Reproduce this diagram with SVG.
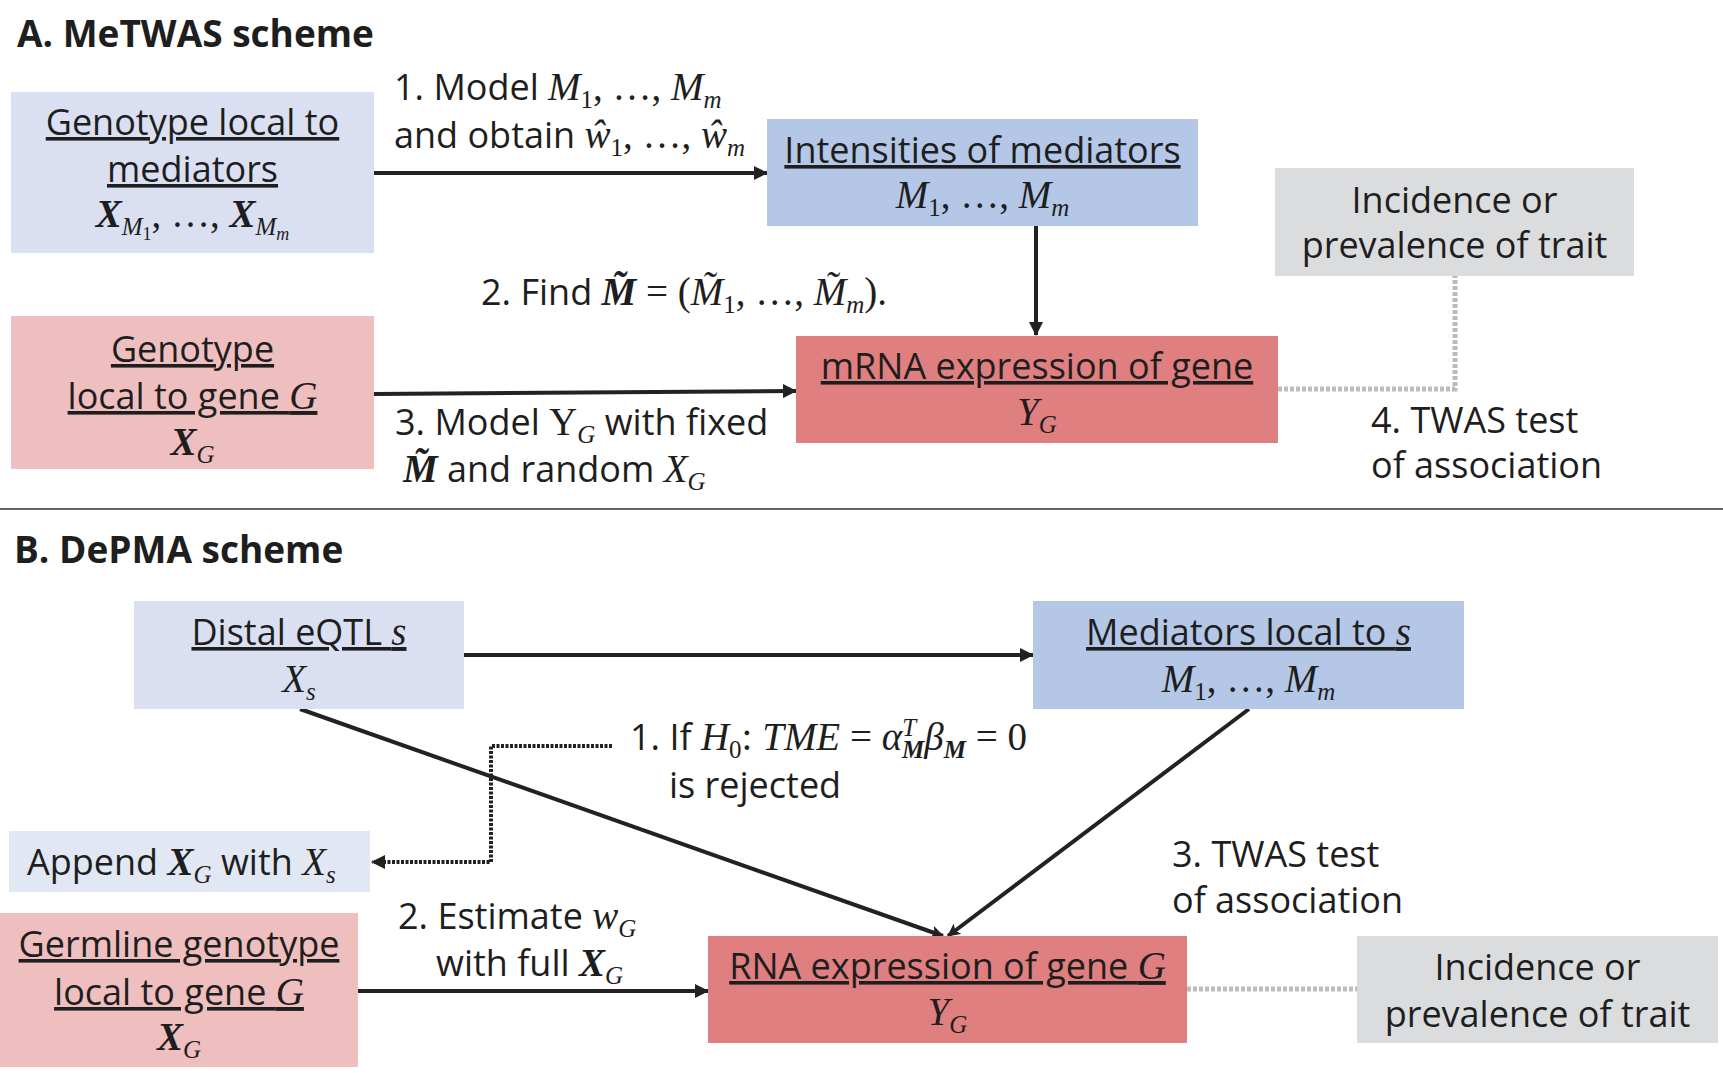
<svg xmlns="http://www.w3.org/2000/svg" width="1723" height="1073" viewBox="0 0 1723 1073">
<style>
.t{font-family:"Open Sans","Noto Sans",sans-serif;font-size:36px;fill:#1e1e1e}
.h{font-weight:bold;font-size:37px}
.m{font-family:"Liberation Serif",serif;font-style:italic;font-size:39px}
.r{font-style:normal}
.b{font-weight:bold}
.s{font-size:25px}
.ss{font-size:18px}
.u{text-decoration:underline;text-decoration-thickness:2.5px}
.c{text-anchor:middle}
.ln{stroke:#222;stroke-width:4;fill:none}
.dg{stroke:#bcbcbc;stroke-width:5;stroke-dasharray:4 2;fill:none}
.db{stroke:#222;stroke-width:4;stroke-dasharray:3 1.5;fill:none}
</style>
<defs>
<marker id="ah" markerWidth="14" markerHeight="14" refX="13" refY="7" orient="auto" markerUnits="userSpaceOnUse"><path d="M0,0 L14,7 L0,14 z" fill="#222"/></marker>
<marker id="ahs" markerWidth="13" markerHeight="13" refX="12" refY="6.5" orient="auto" markerUnits="userSpaceOnUse"><path d="M0,0 L13,6.5 L0,13 L3,6.5 z" fill="#222"/></marker>
</defs>
<rect width="1723" height="1073" fill="#fff"/>

<text x="17" y="47" class="t h">A. MeTWAS scheme</text>
<text x="14" y="563" class="t h">B. DePMA scheme</text>
<line x1="0" y1="509" x2="1723" y2="509" stroke="#333" stroke-width="1.5"/>

<g id="connectors">
<line x1="374" y1="173" x2="767" y2="173" class="ln" marker-end="url(#ah)"/>
<line x1="1036" y1="226" x2="1036" y2="335" class="ln" stroke-width="3" marker-end="url(#ah)"/>
<line x1="374" y1="394" x2="796" y2="391" class="ln" marker-end="url(#ah)"/>
<polyline points="1278,389 1455,389 1455,276" class="dg"/>
<line x1="464" y1="655" x2="1033" y2="655" class="ln" marker-end="url(#ah)"/>
<line x1="300" y1="709" x2="943" y2="936" class="ln" marker-end="url(#ahs)"/>
<line x1="1249" y1="709" x2="948" y2="936" class="ln" marker-end="url(#ahs)"/>
<polyline points="612,746 491,746 491,862 372,862" class="db" marker-end="url(#ah)"/>
<line x1="358" y1="991" x2="708" y2="991" class="ln" marker-end="url(#ah)"/>
<line x1="1187" y1="989" x2="1357" y2="989" class="dg"/>
</g>

<g id="labels">
<text x="394" y="100" class="t">1. Model <tspan class="m">M</tspan><tspan class="m r s" dy="8">1</tspan><tspan class="m r" dy="-8">, …, </tspan><tspan class="m">M</tspan><tspan class="m s" dy="8">m</tspan></text>
<text x="394" y="148" class="t">and obtain <tspan class="m">ŵ</tspan><tspan class="m r s" dy="8">1</tspan><tspan class="m r" dy="-8">, …, </tspan><tspan class="m">ŵ</tspan><tspan class="m s" dy="8">m</tspan></text>
<text x="481" y="305" class="t">2. Find <tspan class="m b">M̃</tspan><tspan class="m r"> = (</tspan><tspan class="m">M̃</tspan><tspan class="m r s" dy="8">1</tspan><tspan class="m r" dy="-8">, …, </tspan><tspan class="m">M̃</tspan><tspan class="m s" dy="8">m</tspan><tspan class="m r" dy="-8">).</tspan></text>
<text x="395" y="435" class="t">3. Model <tspan class="m r">Y</tspan><tspan class="m s" dy="8">G</tspan><tspan dy="-8"> with fixed</tspan></text>
<text x="403" y="482" class="t"><tspan class="m b">M̃</tspan> and random <tspan class="m">X</tspan><tspan class="m s" dy="8">G</tspan></text>
<text x="1371" y="433" class="t">4. TWAS test</text>
<text x="1371" y="478" class="t">of association</text>
<text x="630" y="750" class="t">1. If <tspan class="m">H</tspan><tspan class="m r s" dy="8">0</tspan><tspan class="m r" dy="-8">: </tspan><tspan class="m">TME</tspan><tspan class="m r"> = </tspan><tspan class="m">α</tspan><tspan class="m s" dy="-14">T</tspan><tspan class="m s b" dx="-14" dy="22">M</tspan><tspan class="m" dy="-8">β</tspan><tspan class="m s b" dy="8">M</tspan><tspan class="m r" dy="-8"> = 0</tspan></text>
<text x="669" y="798" class="t">is rejected</text>
<text x="1172" y="867" class="t">3. TWAS test</text>
<text x="1172" y="913" class="t">of association</text>
<text x="398" y="929" class="t">2. Estimate <tspan class="m">w</tspan><tspan class="m s" dy="8">G</tspan></text>
<text x="436" y="976" class="t">with full <tspan class="m b">X</tspan><tspan class="m s" dy="8">G</tspan></text>
</g>

<g id="A1">
<rect x="11" y="92" width="363" height="161" fill="#dae0f2"/>
<text x="192.5" y="135" class="t c u">Genotype local to</text>
<text x="192.5" y="182" class="t c u">mediators</text>
<text x="192.5" y="227" class="t c"><tspan class="m b">X</tspan><tspan class="m s" dy="8">M</tspan><tspan class="m r ss" dy="5">1</tspan><tspan class="m r" dy="-13">, …, </tspan><tspan class="m b">X</tspan><tspan class="m s" dy="8">M</tspan><tspan class="m ss" dy="5">m</tspan></text>
</g>
<g id="A2">
<rect x="767" y="119" width="431" height="107" fill="#b4c7e7"/>
<text x="982.5" y="163" class="t c u">Intensities of mediators</text>
<text x="982.5" y="208" class="t c"><tspan class="m">M</tspan><tspan class="m r s" dy="8">1</tspan><tspan class="m r" dy="-8">, …, </tspan><tspan class="m">M</tspan><tspan class="m s" dy="8">m</tspan></text>
</g>
<g id="A3">
<rect x="1275" y="168" width="359" height="108" fill="#dbdcde"/>
<text x="1454.5" y="213" class="t c">Incidence or</text>
<text x="1454.5" y="258" class="t c">prevalence of trait</text>
</g>
<g id="A4">
<rect x="796" y="336" width="482" height="107" fill="#e07f7f"/>
<text x="1037" y="379" class="t c u">mRNA expression of gene</text>
<text x="1037" y="425" class="t c"><tspan class="m">Y</tspan><tspan class="m s" dy="8">G</tspan></text>
</g>
<g id="A5">
<rect x="11" y="316" width="363" height="153" fill="#efbfc0"/>
<text x="192.5" y="362" class="t c u">Genotype</text>
<text x="192.5" y="409" class="t c u">local to gene <tspan class="m">G</tspan></text>
<text x="192.5" y="455" class="t c"><tspan class="m b">X</tspan><tspan class="m s" dy="8">G</tspan></text>
</g>

<g id="B1">
<rect x="134" y="601" width="330" height="108" fill="#dae0f2"/>
<text x="299" y="645" class="t c u">Distal eQTL <tspan class="m">s</tspan></text>
<text x="299" y="692" class="t c"><tspan class="m">X</tspan><tspan class="m s" dy="8">s</tspan></text>
</g>
<g id="B2">
<rect x="1033" y="601" width="431" height="108" fill="#b4c7e7"/>
<text x="1248.5" y="645" class="t c u">Mediators local to <tspan class="m">s</tspan></text>
<text x="1248.5" y="692" class="t c"><tspan class="m">M</tspan><tspan class="m r s" dy="8">1</tspan><tspan class="m r" dy="-8">, …, </tspan><tspan class="m">M</tspan><tspan class="m s" dy="8">m</tspan></text>
</g>
<g id="B3">
<rect x="9" y="831" width="361" height="61" fill="#e2e7f4"/>
<text x="27" y="875" class="t">Append <tspan class="m b">X</tspan><tspan class="m s" dy="8">G</tspan><tspan dy="-8"> with </tspan><tspan class="m">X</tspan><tspan class="m s" dy="8">s</tspan></text>
</g>
<g id="B4">
<rect x="708" y="936" width="479" height="107" fill="#e07f7f"/>
<text x="947.5" y="979" class="t c u">RNA expression of gene <tspan class="m">G</tspan></text>
<text x="947.5" y="1025" class="t c"><tspan class="m">Y</tspan><tspan class="m s" dy="8">G</tspan></text>
</g>
<g id="B5">
<rect x="0" y="913" width="358" height="154" fill="#efbfc0"/>
<text x="179" y="957" class="t c u">Germline genotype</text>
<text x="179" y="1005" class="t c u">local to gene <tspan class="m">G</tspan></text>
<text x="179" y="1050" class="t c"><tspan class="m b">X</tspan><tspan class="m s" dy="8">G</tspan></text>
</g>
<g id="B6">
<rect x="1357" y="936" width="361" height="107" fill="#dbdcde"/>
<text x="1537.5" y="980" class="t c">Incidence or</text>
<text x="1537.5" y="1027" class="t c">prevalence of trait</text>
</g>
</svg>
